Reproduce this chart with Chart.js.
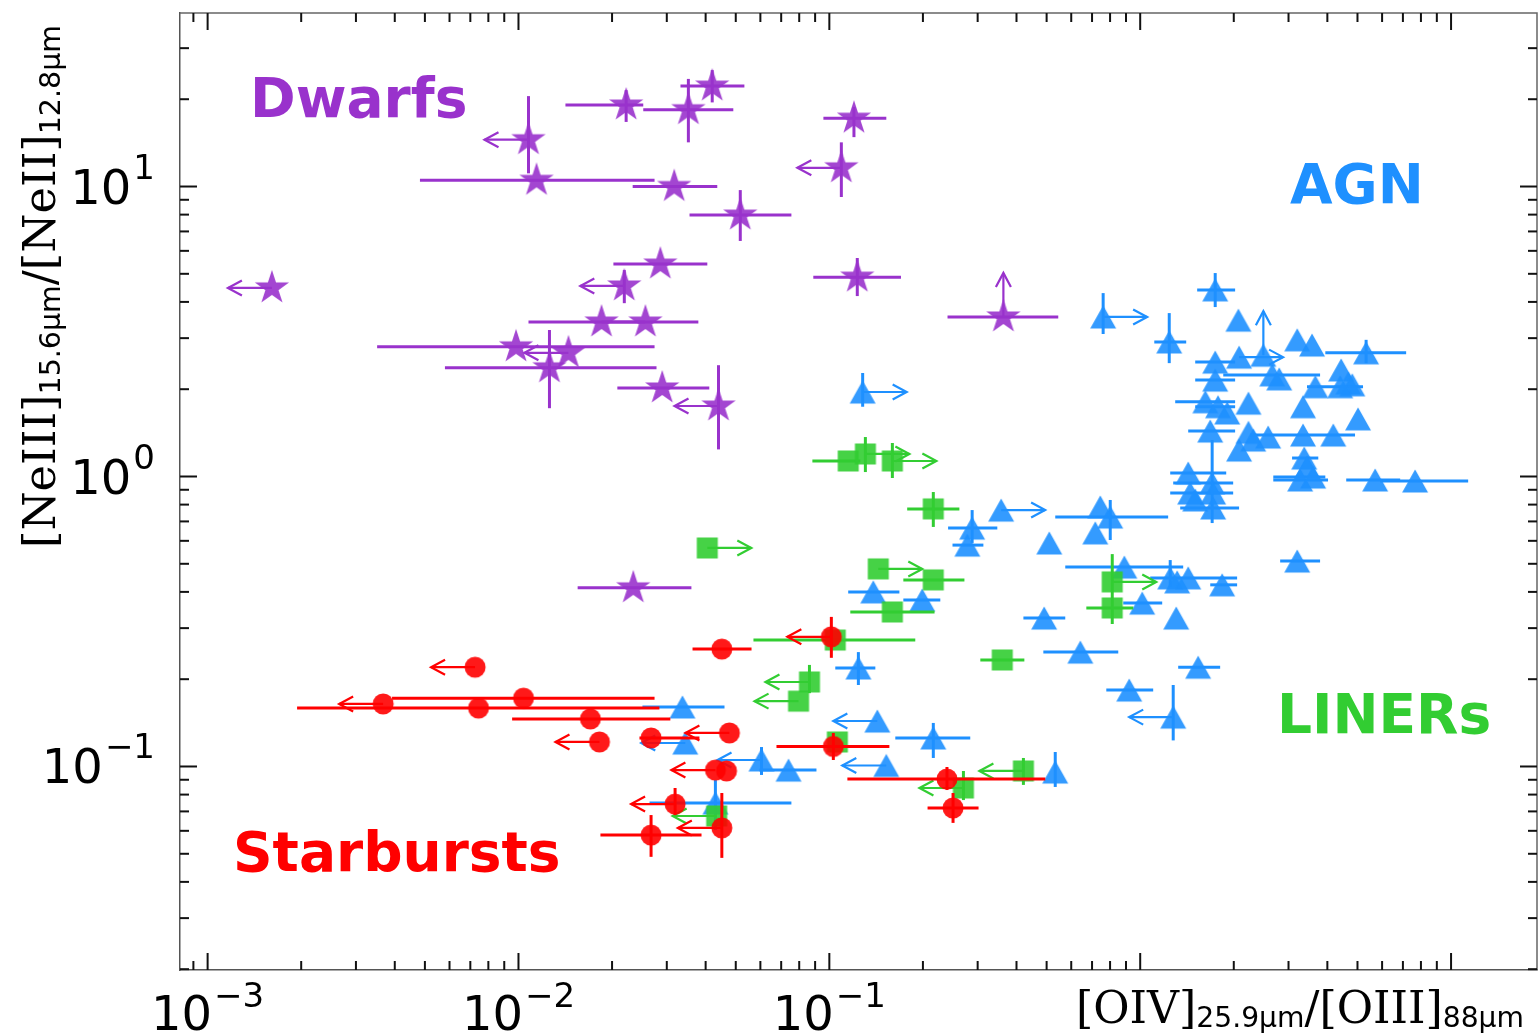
<!DOCTYPE html>
<html><head><meta charset="utf-8">
<script src="https://cdn.jsdelivr.net/npm/chart.js@4.4.1/dist/chart.umd.min.js"></script>
<style>html,body{margin:0;padding:0;background:#fff;}canvas{display:block;}</style>
</head><body>
<canvas id="c" width="1539" height="1033"></canvas>
<script>
// ---------------- axis ranges & ticks ----------------
const xMin = 0.000815, xMax = 18.9;
const yMin = 0.01987, yMax = 39.66;
const xTickVals = [1e-3, 1e-2, 1e-1];
const xTickExps = ['\u22123', '\u22122', '\u22121'];
const yTickVals = [10, 1, 0.1];
const yTickExps = ['1', '0', '\u22121'];

// ---------------- Dwarfs ----------------
const dwarfX   = [0.042, 0.0222, 0.0352, 0.01077, 0.01143, 0.0317, 0.0517, 0.120, 0.1093, 0.123, 0.363, 0.0286, 0.0219, 0.0185, 0.0256, 0.00982, 0.01448, 0.01258, 0.0290, 0.0440, 0.00161, 0.0234];
const dwarfY   = [22.2, 19.1, 18.4, 14.5, 10.5, 10.0, 7.97, 17.2, 11.6, 4.87, 3.55, 5.40, 4.54, 3.41, 3.41, 2.80, 2.67, 2.37, 2.02, 1.75, 4.47, 0.413];
const dwarfXLo = [0.0332, 0.01416, 0.0252, null, 0.00482, 0.0233, 0.0355, 0.0957, null, 0.0888, 0.240, 0.0202, null, 0.01077, 0.0185, 0.00351, null, 0.0058, 0.0208, null, null, 0.0155];
const dwarfXHi = [0.0533, 0.0252, 0.0491, null, 0.0274, 0.0436, 0.0755, 0.1525, null, 0.170, 0.545, 0.0405, null, 0.0256, 0.0379, 0.0274, null, 0.0278, 0.0411, null, null, 0.036];
const dwarfYLo = [19.5, 16.7, 14.2, 11.1, null, null, 6.49, 14.8, 9.2, 4.19, null, null, 3.96, null, null, null, null, 1.72, null, 1.24, null, null];
const dwarfYHi = [25.2, 21.5, 23.5, 20.5, null, null, 9.72, 18.8, 14.2, 5.67, null, null, 5.15, null, null, null, null, 3.2, null, 2.42, null, null];
const dwarfLim = ['', '', '', 'L', '', '', '', '', 'L', '', 'U', '', 'L', '', '', '', 'L', '', '', 'L', 'L', ''];

// ---------------- AGN ----------------
const agnX   = [0.760, 1.743, 2.07, 1.24, 2.49, 2.08, 1.743, 1.743, 3.20, 3.57, 5.33, 2.66, 2.80, 4.43, 4.67, 4.81, 4.40, 3.66, 3.34, 5.02, 2.23, 1.62, 1.78, 1.905, 1.68, 2.23, 2.08, 2.31, 2.58, 3.34, 4.18, 3.37, 3.44, 3.27, 3.60, 5.70, 7.66, 1.427, 1.448, 1.503, 1.704, 1.717, 1.717, 0.744, 0.801, 0.717, 0.357, 0.288, 0.278, 0.510, 0.889, 1.249, 1.315, 1.427, 1.835, 1.015, 1.306, 0.491, 0.642, 1.536, 0.922, 1.277, 3.20, 0.128, 0.1385, 0.199, 0.124, 0.1427, 0.216, 0.1525, 0.533, 0.0337, 0.0344, 0.0605, 0.0739, 0.043];
const agnY   = [3.55, 4.40, 3.46, 2.91, 2.62, 2.58, 2.48, 2.15, 2.96, 2.84, 2.67, 2.24, 2.17, 2.33, 2.10, 2.07, 2.04, 2.04, 1.74, 1.58, 1.79, 1.81, 1.74, 1.656, 1.435, 1.42, 1.234, 1.336, 1.368, 1.39, 1.39, 1.158, 1.078, 0.973, 0.996, 0.973, 0.965, 1.028, 0.877, 0.830, 0.950, 0.877, 0.779, 0.785, 0.725, 0.639, 0.766, 0.664, 0.580, 0.590, 0.487, 0.447, 0.433, 0.447, 0.423, 0.366, 0.325, 0.325, 0.248, 0.220, 0.1835, 0.148, 0.511, 1.956, 0.400, 0.375, 0.2186, 0.1435, 0.1254, 0.1008, 0.0957, 0.1604, 0.1205, 0.1053, 0.0972, 0.0748];
const agnXLo = [null, 1.525, null, 1.11, null, null, 1.503, 1.503, null, null, 3.94, 1.85, null, null, null, null, 3.44, null, null, null, null, 1.296, 1.503, null, 1.427, null, null, null, null, 2.26, null, 3.08, null, 2.68, 2.68, 4.60, 5.92, 1.249, 1.249, null, 1.277, null, 1.345, null, 0.533, null, null, 0.241, 0.249, null, 0.574, null, null, 1.077, 1.68, 0.882, null, 0.421, 0.488, 1.325, 0.778, null, 2.82, null, 0.115, 0.173, 0.1045, null, 0.163, null, null, 0.02505, null, null, 0.0596, 0.0264];
const agnXHi = [null, 2.02, null, 1.406, null, null, 2.02, 2.02, null, null, 7.17, 3.79, null, null, null, null, 5.21, null, null, null, null, 2.02, 2.02, null, 2.02, null, null, null, null, 4.91, null, 3.74, null, 4.02, 3.94, 6.86, 11.35, 1.891, 1.991, null, 1.991, null, 2.08, null, 1.23, null, null, 0.347, 0.313, null, 1.375, null, null, 2.05, 2.05, 1.177, null, 0.574, 0.850, 1.808, 1.101, null, 3.79, null, 0.168, 0.2275, 0.1406, null, 0.284, null, null, 0.046, null, null, 0.0909, 0.0755];
const agnYLo = [3.10, 3.84, null, 2.46, null, null, null, null, null, null, 2.46, null, null, null, null, null, null, null, null, null, null, null, null, null, null, null, null, null, null, null, null, null, null, null, null, null, null, null, null, null, 0.691, null, null, null, 0.604, null, null, 0.590, null, null, null, 0.416, null, null, null, null, null, null, null, null, null, 0.123, null, 1.74, null, null, 0.191, null, 0.107, null, 0.085, null, null, 0.0935, null, 0.0604];
const agnYHi = [4.29, 5.03, null, 3.66, null, null, null, null, null, null, 2.96, null, null, null, null, null, null, null, null, null, null, null, null, null, null, null, null, null, null, null, null, null, null, null, null, null, null, null, null, null, 1.336, null, null, null, 0.830, null, null, 0.766, null, null, null, 0.515, null, null, null, null, null, null, null, null, null, 0.191, null, 2.275, null, null, 0.248, null, 0.1413, null, 0.1122, null, null, 0.1167, null, 0.0898];
const agnLim = ['R', '', '', '', 'U', 'R', '', '', '', '', '', '', '', '', '', '', '', '', '', '', '', '', '', '', '', '', '', '', '', '', '', '', '', '', '', '', '', '', '', '', '', '', '', '', '', '', 'R', '', '', '', '', '', '', '', '', '', '', '', '', '', '', 'L', '', 'R', '', '', '', 'L', '', 'L', '', '', 'L', 'L', '', ''];

// ---------------- LINERs ----------------
const linerX   = [0.0405, 0.115, 0.1306, 0.1595, 0.216, 0.1437, 0.216, 0.1595, 0.1045, 0.0863, 0.0796, 0.360, 0.813, 0.813, 0.1061, 0.421, 0.270, 0.0434];
const linerY   = [0.567, 1.131, 1.196, 1.131, 0.773, 0.480, 0.440, 0.341, 0.273, 0.1956, 0.168, 0.233, 0.433, 0.352, 0.1215, 0.0965, 0.0843, 0.0675];
const linerXLo = [null, 0.0882, null, null, 0.178, null, 0.173, 0.1168, 0.057, null, null, 0.306, null, 0.671, null, null, null, null];
const linerXHi = [null, 0.1258, null, null, 0.262, null, 0.272, 0.218, 0.189, null, null, 0.424, null, 0.950, null, null, null, null];
const linerYLo = [null, null, 1.036, 0.988, 0.670, null, null, null, null, 0.179, null, null, 0.310, null, null, 0.0864, 0.0766, null];
const linerYHi = [null, null, 1.368, 1.305, 0.884, null, null, null, null, 0.224, null, null, 0.540, null, null, 0.107, 0.0965, null];
const linerLim = ['R', '', 'R', 'R', '', 'R', '', '', '', 'L', 'L', '', 'R', '', '', 'L', 'L', 'L'];

// ---------------- Starbursts ----------------
const sbX   = [0.00725, 0.00367, 0.00744, 0.01038, 0.01704, 0.01822, 0.0267, 0.0477, 0.0451, 0.043, 0.0467, 0.0319, 0.0267, 0.0451, 0.103, 0.1015, 0.239, 0.250];
const sbY   = [0.220, 0.1643, 0.159, 0.172, 0.1458, 0.1215, 0.1254, 0.1305, 0.254, 0.0972, 0.0965, 0.0742, 0.058, 0.0614, 0.1172, 0.280, 0.0905, 0.0719];
const sbXLo = [null, null, 0.00194, 0.00392, 0.00954, null, 0.0245, null, 0.0363, null, null, null, 0.01835, null, 0.0676, null, 0.1143, 0.207];
const sbXHi = [null, null, 0.0284, 0.0274, 0.0308, null, 0.0382, null, 0.0562, null, null, null, 0.0388, null, 0.156, null, 0.495, 0.302];
const sbYLo = [null, null, null, null, null, null, null, null, null, null, null, 0.068, 0.0488, 0.0484, 0.1053, 0.237, 0.083, 0.0639];
const sbYHi = [null, null, null, null, null, null, null, null, null, null, null, 0.0843, 0.068, 0.081, 0.1305, 0.328, 0.0996, 0.081];
const sbLim = ['L', 'L', '', '', '', 'L', '', 'L', '', 'L', '', 'L', '', 'L', '', 'L', '', ''];

// ---------------- colours ----------------
const colPurple = [153, 50, 204];
const colBlue = [30, 144, 255];
const colGreen = [50, 205, 50];
const colRed = [255, 0, 0];
const rgba = (c, a) => `rgba(${c[0]},${c[1]},${c[2]},${a})`;

// ---------------- marker images ----------------
function makeMarker(shape, col) {
  const cv = document.createElement('canvas');
  const s = shape === 'star' ? 40 : (shape === 'tri' ? 30 : 24);
  cv.width = s; cv.height = s;
  const g = cv.getContext('2d');
  g.fillStyle = rgba(col, 0.9);
  const c = s / 2;
  g.beginPath();
  if (shape === 'star') {
    const R = 18, r = 6.9;
    for (let k = 0; k < 10; k++) {
      const a = -Math.PI / 2 + k * Math.PI / 5;
      const rr = k % 2 === 0 ? R : r;
      const px = c + rr * Math.cos(a), py = c + rr * Math.sin(a);
      k === 0 ? g.moveTo(px, py) : g.lineTo(px, py);
    }
    g.closePath();
  } else if (shape === 'tri') {
    g.moveTo(c, c - 11.5); g.lineTo(c + 13, c + 11.5); g.lineTo(c - 13, c + 11.5); g.closePath();
  } else if (shape === 'sq') {
    g.rect(c - 10.5, c - 10.5, 21, 21);
  } else {
    g.arc(c, c, 10.5, 0, Math.PI * 2);
  }
  g.fill();
  return cv;
}

function pts(xs, ys) { return xs.map((x, i) => ({x: x, y: ys[i]})); }

function makeDataset(label, xs, ys, xlo, xhi, ylo, yhi, lim, shape, col) {
  return {
    label: label,
    data: pts(xs, ys),
    pointStyle: makeMarker(shape, col),
    pointRadius: 10,
    pointHoverRadius: 10,
    showLine: false,
    err: {xlo: xlo, xhi: xhi, ylo: ylo, yhi: yhi, lim: lim, color: rgba(col, 1)}
  };
}

// ---------------- error bars / limit arrows ----------------
const errorBarPlugin = {
  id: 'errorBars',
  beforeDatasetDraw(chart, args) {
    const ds = chart.data.datasets[args.index];
    const e = ds.err;
    if (!e) return;
    const xs = chart.scales.x, ys = chart.scales.y, ctx = chart.ctx;
    ctx.save();
    ctx.strokeStyle = e.color;
    ctx.lineCap = 'butt';
    const seg = (a, b, c, d) => { ctx.beginPath(); ctx.moveTo(a, b); ctx.lineTo(c, d); ctx.stroke(); };
    for (let i = 0; i < ds.data.length; i++) {
      const px = xs.getPixelForValue(ds.data[i].x);
      const py = ys.getPixelForValue(ds.data[i].y);
      ctx.lineWidth = 3;
      if (e.xlo[i] != null && e.xhi[i] != null) seg(xs.getPixelForValue(e.xlo[i]), py, xs.getPixelForValue(e.xhi[i]), py);
      if (e.ylo[i] != null && e.yhi[i] != null) seg(px, ys.getPixelForValue(e.ylo[i]), px, ys.getPixelForValue(e.yhi[i]));
      const lim = e.lim[i];
      if (lim) {
        ctx.lineWidth = 2.2;
        const L = 44, H = 14, W = 7.5;
        let ux = 0, uy = 0;
        if (lim === 'L') { ux = -1; } else if (lim === 'R') { ux = 1; } else if (lim === 'U') { uy = -1; }
        const tx = px + ux * L, ty = py + uy * L;
        seg(px, py, tx, ty);
        ctx.beginPath();
        ctx.moveTo(tx - ux * H - uy * W, ty - uy * H + ux * W);
        ctx.lineTo(tx, ty);
        ctx.lineTo(tx - ux * H + uy * W, ty - uy * H - ux * W);
        ctx.stroke();
      }
    }
    ctx.restore();
  }
};

// ---------------- frame, ticks, labels ----------------
const framePlugin = {
  id: 'frame',
  afterDraw(chart) {
    const ctx = chart.ctx, xs = chart.scales.x, ys = chart.scales.y;
    const L = xs.left, R = xs.right, T = ys.top, B = ys.bottom;
    ctx.save();
    ctx.strokeStyle = '#666'; ctx.lineWidth = 1.5;
    ctx.beginPath(); ctx.moveTo(L, T); ctx.lineTo(R, T); ctx.lineTo(R, B); ctx.stroke();
    ctx.strokeStyle = '#111'; ctx.lineWidth = 2;
    const seg = (a, b, c, d) => { ctx.beginPath(); ctx.moveTo(a, b); ctx.lineTo(c, d); ctx.stroke(); };
    for (let e = -4; e <= 2; e++) {
      for (let k = 1; k <= 9; k++) {
        const v = k * Math.pow(10, e);
        const len = k === 1 ? 17 : 9;
        if (v >= xs.min && v <= xs.max) {
          const p = xs.getPixelForValue(v);
          seg(p, B, p, B - len); seg(p, T, p, T + len);
        }
        if (v >= ys.min && v <= ys.max) {
          const p = ys.getPixelForValue(v);
          seg(L, p, L + len, p); seg(R, p, R - len, p);
        }
      }
    }
    ctx.fillStyle = '#000';
    const baseFont = '48px "DejaVu Sans"', supFont = '34px "DejaVu Sans"';
    function label(exp) {
      ctx.font = baseFont; const wb = ctx.measureText('10').width;
      ctx.font = supFont; const ws = ctx.measureText(exp).width;
      return {wb: wb, ws: ws, total: wb + 2 + ws};
    }
    ctx.textBaseline = 'alphabetic'; ctx.textAlign = 'left';
    xTickVals.forEach((v, i) => {
      const p = xs.getPixelForValue(v);
      const m = label(xTickExps[i]);
      const left = p - m.total / 2;
      ctx.font = baseFont; ctx.fillText('10', left, 1030);
      ctx.font = supFont; ctx.fillText(xTickExps[i], left + m.wb + 2, 1007);
    });
    yTickVals.forEach((v, i) => {
      const p = ys.getPixelForValue(v);
      const m = label(yTickExps[i]);
      const left = 155 - m.total;
      ctx.font = baseFont; ctx.fillText('10', left, p + 17);
      ctx.font = supFont; ctx.fillText(yTickExps[i], left + m.wb + 2, p - 8);
    });
    const mainF = '44px "DejaVu Serif"', subF = '28px "DejaVu Sans"';
    function drawSegs(segs, length) {
      let tot = 0;
      segs.forEach(s => { ctx.font = s[1]; tot += ctx.measureText(s[0]).width; });
      ctx.scale(length / tot, 1);
      let x = 0;
      segs.forEach(s => { ctx.font = s[1]; ctx.fillText(s[0], x, s[2]); x += ctx.measureText(s[0]).width; });
    }
    const xSegs = [['[OIV]', mainF, 0], ['25.9\u03bcm', subF, 4], ['/', mainF, 0], ['[OIII]', mainF, 0], ['88\u03bcm', subF, 4]];
    ctx.save(); ctx.translate(1076, 1023); drawSegs(xSegs, 448); ctx.restore();
    const ySegs = [['[NeIII]', mainF, 0], ['15.6\u03bcm', subF, 5], ['/', mainF, 0], ['[NeII]', mainF, 0], ['12.8\u03bcm', subF, 5]];
    ctx.save(); ctx.translate(55, 548); ctx.rotate(-Math.PI / 2); drawSegs(ySegs, 523); ctx.restore();
    ctx.font = 'bold 55px "DejaVu Sans"';
    ctx.fillStyle = rgba(colPurple, 1); ctx.fillText('Dwarfs', 250, 117);
    ctx.fillStyle = rgba(colBlue, 1); ctx.fillText('AGN', 1290, 203);
    ctx.fillStyle = rgba(colGreen, 1); ctx.fillText('LINERs', 1277, 733);
    ctx.fillStyle = rgba(colRed, 1); ctx.fillText('Starbursts', 233, 871);
    ctx.restore();
  }
};

const datasets = [
  makeDataset('Starbursts', sbX, sbY, sbXLo, sbXHi, sbYLo, sbYHi, sbLim, 'circle', colRed),
  makeDataset('LINERs', linerX, linerY, linerXLo, linerXHi, linerYLo, linerYHi, linerLim, 'sq', colGreen),
  makeDataset('AGN', agnX, agnY, agnXLo, agnXHi, agnYLo, agnYHi, agnLim, 'tri', colBlue),
  makeDataset('Dwarfs', dwarfX, dwarfY, dwarfXLo, dwarfXHi, dwarfYLo, dwarfYHi, dwarfLim, 'star', colPurple)
];

new Chart(document.getElementById('c'), {
  type: 'scatter',
  data: {datasets: datasets},
  options: {
    responsive: false,
    animation: false,
    devicePixelRatio: 1,
    events: [],
    layout: {padding: {left: 0, top: 13, right: 2, bottom: 0}, autoPadding: false},
    plugins: {legend: {display: false}, tooltip: {enabled: false}, title: {display: false}},
    scales: {
      x: {
        type: 'logarithmic', position: 'bottom', min: xMin, max: xMax, bounds: 'data',
        ticks: {display: false}, grid: {display: false, drawTicks: false},
        border: {display: true, color: '#555', width: 1.5},
        afterFit: s => { s.height = 63; }
      },
      y: {
        type: 'logarithmic', position: 'left', min: yMin, max: yMax, bounds: 'data',
        ticks: {display: false}, grid: {display: false, drawTicks: false},
        border: {display: true, color: '#555', width: 1.5},
        afterFit: s => { s.width = 180; }
      }
    }
  },
  plugins: [errorBarPlugin, framePlugin]
});
</script>
</body></html>
